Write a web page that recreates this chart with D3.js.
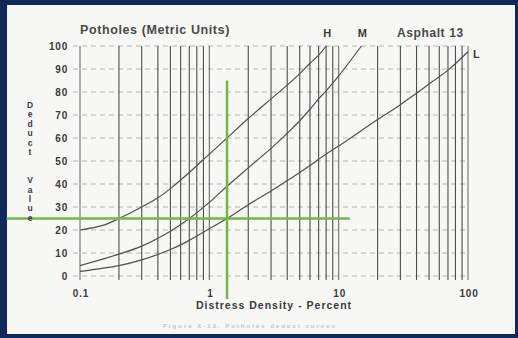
<!DOCTYPE html>
<html>
<head>
<meta charset="utf-8">
<script src="https://cdn.jsdelivr.net/npm/d3@7"></script>
<style>
  body { margin: 0; background: #fff; }
  text { font-family: "Liberation Sans", Arial, sans-serif; font-weight: bold; fill: #3b3b3b; }
</style>
</head>
<body>
<script>
// chart values
const gridDensities = [0.1,0.2,0.3,0.4,0.5,0.6,0.7,0.8,0.9,
                       1,2,3,4,5,6,7,8,9,
                       10,20,30,40,50,60,70,80,90,100];
const densityTicks = [0.1, 1, 10, 100];
const deductTicks = [0,10,20,30,40,50,60,70,80,90,100];

const curveH = [[0.1,20],[0.15,22],[0.2,25],[0.3,30],[0.4,34],[0.5,38],[0.7,45],[1,53],[1.37,60],
                [2,68.5],[3,77],[4,83],[5,88],[6,92.5],[7,96],[8,100]];
const curveM = [[0.1,4.5],[0.2,9.5],[0.3,13],[0.5,19.5],[0.7,25],[1,32],[1.37,39],[2,47],
                [3,55.5],[4,62],[5,67.5],[6,72.5],[7,77],[8,80.5],[10,87],[15,100]];
const curveL = [[0.1,2],[0.2,4.5],[0.3,7],[0.5,11.5],[0.7,15.5],[1,20.5],[1.37,25],[2,31],[3,37],
                [4,41.5],[5,45],[6,48],[8,53],[10,56.5],[20,68],[30,74.5],[40,79.5],[50,83.5],
                [70,89.5],[100,97.5]];
const curveNames = ["H", "M", "L"];

// green read-off lines
const readDensity = 1.37, readDeduct = 25;
const readDeductSpan = [-10, 85];
const readDensitySpan = [0.027, 12.2];

const W = 518, H = 338;

let svg = d3.select("body").append("svg")
    .attr("width", W)
    .attr("height", H);

// navy frame
svg.append("rect").attr("width", W).attr("height", H).attr("fill", "#10285a");
svg.append("rect").attr("x", 7).attr("y", 5).attr("width", 508).attr("height", 329)
    .attr("fill", "#f7f7f6");

let x = d3.scaleLog().domain([0.1, 100]).range([80, 468]);
let y = d3.scaleLinear().domain([0, 100]).range([276, 46]);

// horizontal dashed grid
svg.append("g").selectAll("line")
    .data(deductTicks)
    .enter().append("line")
    .attr("x1", x(0.1) - 7).attr("x2", x(100))
    .attr("y1", d => y(d)).attr("y2", d => y(d))
    .attr("stroke", "#b4b4b4")
    .attr("stroke-width", 1)
    .attr("stroke-dasharray", "5,4");

// vertical log grid
svg.append("g").selectAll("line")
    .data(gridDensities)
    .enter().append("line")
    .attr("x1", d => x(d)).attr("x2", d => x(d))
    .attr("y1", y(100)).attr("y2", y(0) + 4)
    .attr("stroke", (d, i) => i % 9 === 0 ? "#707070" : "#4e4e4e")
    .attr("stroke-width", 1.1);

// curves
let line = d3.line()
    .x(d => x(d[0]))
    .y(d => y(d[1]))
    .curve(d3.curveCatmullRom.alpha(0.5));

let curves = [curveH, curveM, curveL];
svg.append("g").selectAll("path")
    .data(curves)
    .enter().append("path")
    .attr("d", line)
    .attr("fill", "none")
    .attr("stroke", "#505050")
    .attr("stroke-width", 1.2);

// curve labels at line ends
curves.forEach((c, i) => {
    let end = c[c.length - 1];
    let t = svg.append("text").text(curveNames[i]).style("font-size", "11px");
    if (curveNames[i] === "L") {
        t.attr("x", x(end[0]) + 5).attr("y", y(end[1]) + 6);
    } else {
        t.attr("x", x(end[0]) + 1).attr("y", y(end[1]) - 9).attr("text-anchor", "middle");
    }
});

// green read-off lines
svg.append("line")
    .attr("x1", x(readDensity)).attr("x2", x(readDensity))
    .attr("y1", y(readDeductSpan[1])).attr("y2", y(readDeductSpan[0]))
    .attr("stroke", "#72b843").attr("stroke-width", 2.5);
svg.append("line")
    .attr("x1", x(readDensitySpan[0])).attr("x2", x(readDensitySpan[1]))
    .attr("y1", y(readDeduct)).attr("y2", y(readDeduct))
    .attr("stroke", "#72b843").attr("stroke-width", 2.5);

// tick labels
svg.append("g").selectAll("text")
    .data(deductTicks)
    .enter().append("text")
    .attr("x", 68).attr("y", d => y(d) + 4)
    .attr("text-anchor", "end")
    .style("font-size", "10px").style("letter-spacing", "0.8px")
    .text(d => d);

svg.append("g").selectAll("text")
    .data(densityTicks)
    .enter().append("text")
    .attr("x", d => x(d) + 1).attr("y", 297)
    .attr("text-anchor", "middle")
    .style("font-size", "10px").style("letter-spacing", "0.8px")
    .text(d => d);

// titles
svg.append("text").attr("x", 80).attr("y", 34)
    .style("font-size", "12.5px").style("letter-spacing", "0.6px")
    .style("fill", "#4a4a4a")
    .text("Potholes (Metric Units)");
svg.append("text").attr("x", 397).attr("y", 37)
    .style("font-size", "12px").style("letter-spacing", "0.6px")
    .style("fill", "#4a4a4a")
    .text("Asphalt 13");
svg.append("text").attr("x", 274).attr("y", 309)
    .attr("text-anchor", "middle")
    .style("font-size", "10.5px").style("letter-spacing", "1px")
    .text("Distress Density - Percent");

// stacked y label
let yLabel = "Deduct  Value".split("");
svg.append("g").selectAll("text")
    .data(yLabel)
    .enter().append("text")
    .attr("x", 30).attr("y", (d, i) => 108 + i * 9.4)
    .attr("text-anchor", "middle")
    .style("font-size", "8.5px")
    .text(d => d);

// faint caption below the chart
svg.append("text").attr("x", 250).attr("y", 328)
    .attr("text-anchor", "middle")
    .style("font-size", "6px").style("letter-spacing", "2px")
    .style("fill", "#c4c4c4")
    .text("Figure  X-13.  Potholes  deduct  curves");
</script>
</body>
</html>
